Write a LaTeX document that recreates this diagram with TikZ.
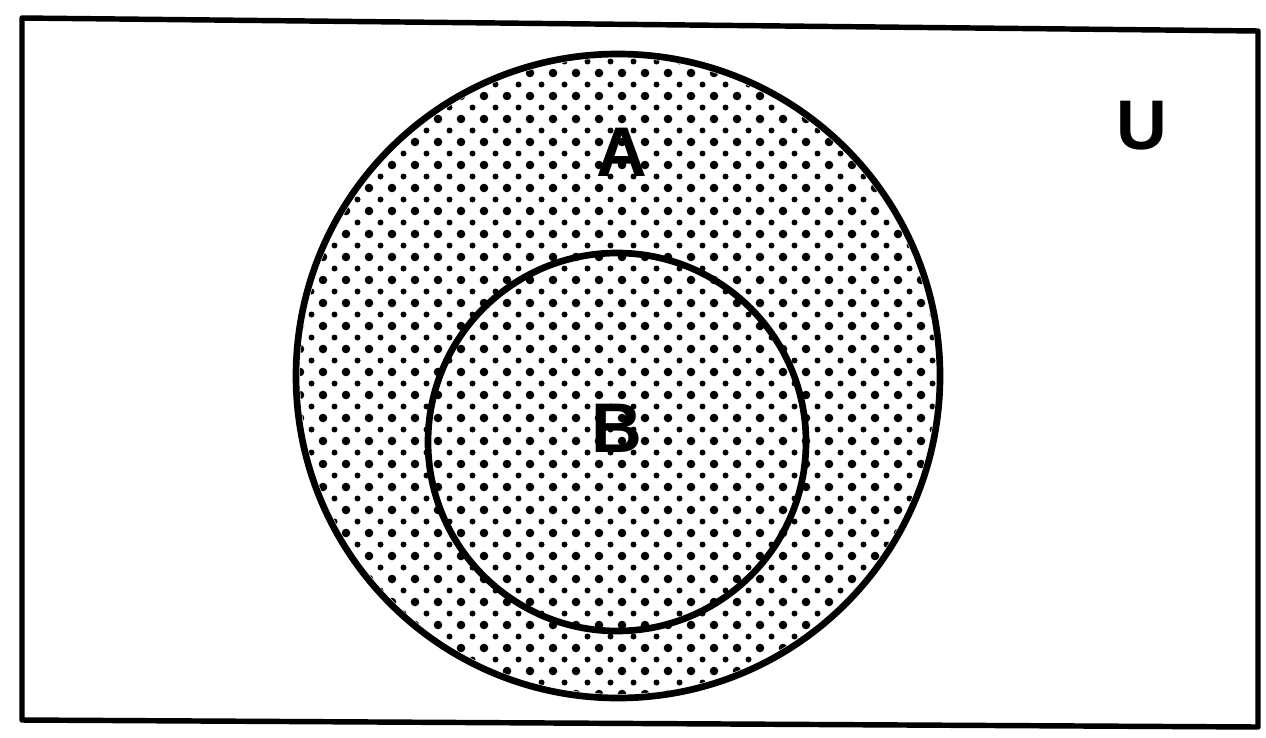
\documentclass[tikz,border=0pt]{standalone}
\usepackage{fontspec}
\setsansfont{Liberation Sans}
\tikzset{
  setline/.style={line width=3.8pt},
  setlabel/.style={font=\sffamily\bfseries\fontsize{40}{42}\selectfont, inner sep=0pt},
  bigdot/.style={fill=black},
}
\begin{document}
\begin{tikzpicture}[x=0.02cm,y=-0.02cm]
            \useasboundingbox (0,0) rectangle (1266,737);
            % universe
            \draw [line width=3.1pt, line join=round] (22,18) -- (1258,31) -- (1258,727) -- (22,720) -- cycle;
            % shading of A (B lies inside it)
            \begin{scope}
              \clip (618,376) circle [radius=318];
              \foreach \i in {0,...,28} {
                \foreach \j in {0,...,29} {
                  \fill [bigdot] (300+23*\i,50+23*\j) circle [radius=4.3];
                  \fill [bigdot] (311.5+23*\i,61.5+23*\j) circle [radius=3];
                }
              }
            \end{scope}
            \draw [setline] (618,376) circle [radius=322];
            \draw [setline] (617,442) circle [radius=189];
            \node [setlabel] (labA) at (622,152) {A};
            \node [setlabel] (labB) at (617,428) {B};
            \node [setlabel] (labU) at (1142,126) {U};
        \end{tikzpicture}
\end{document}
